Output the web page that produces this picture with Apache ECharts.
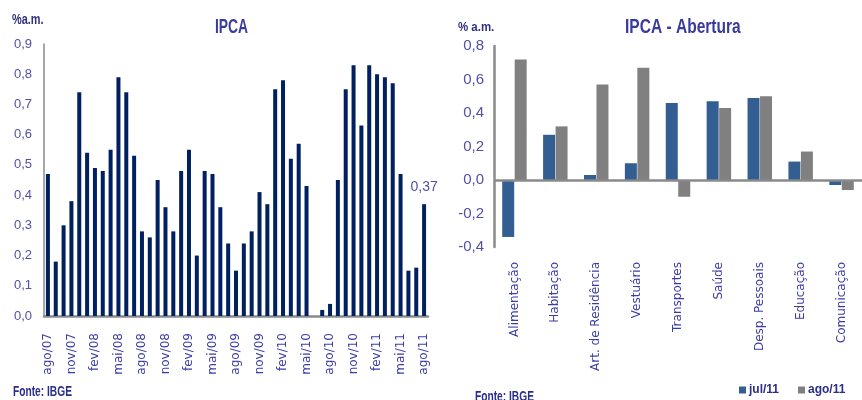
<!DOCTYPE html>
<html><head><meta charset="utf-8">
<script src="https://cdn.jsdelivr.net/npm/echarts@6/dist/echarts.min.js"></script>
<style>html,body{margin:0;padding:0;background:#fff}#c{width:862px;height:400px}</style>
</head><body><div id="c"></div>
<script>
var months = ["ago/07","set/07","out/07","nov/07","dez/07","jan/08","fev/08","mar/08","abr/08","mai/08","jun/08","jul/08","ago/08","set/08","out/08","nov/08","dez/08","jan/09","fev/09","mar/09","abr/09","mai/09","jun/09","jul/09","ago/09","set/09","out/09","nov/09","dez/09","jan/10","fev/10","mar/10","abr/10","mai/10","jun/10","jul/10","ago/10","set/10","out/10","nov/10","dez/10","jan/11","fev/11","mar/11","abr/11","mai/11","jun/11","jul/11","ago/11"];
var ipca = [0.47,0.18,0.30,0.38,0.74,0.54,0.49,0.48,0.55,0.79,0.74,0.53,0.28,0.26,0.45,0.36,0.28,0.48,0.55,0.20,0.48,0.47,0.36,0.24,0.15,0.24,0.28,0.41,0.37,0.75,0.78,0.52,0.57,0.43,0.00,0.02,0.04,0.45,0.75,0.83,0.63,0.83,0.80,0.79,0.77,0.47,0.15,0.16,0.37];
var groups = ["Alimentação","Habitação","Art. de Residência","Vestuário","Transportes","Saúde","Desp. Pessoais","Educação","Comunicação"];
var jul11 = [-0.34,0.27,0.03,0.10,0.46,0.47,0.49,0.11,-0.03];
var ago11 = [0.72,0.32,0.57,0.67,-0.10,0.43,0.50,0.17,-0.06];
var leftTicks = {min:0, max:0.9, step:0.1};
var rightTicks = {min:-0.4, max:0.8, step:0.2};

var SANS = '"Liberation Sans",Arial,sans-serif';
var WIDE = '"DejaVu Sans",sans-serif';
var fmt = function(v){ return v.toFixed(1).replace('.', ','); };

var ipcaData = ipca.map(function(v,i){
  if (i === ipca.length-1) return {value:v, label:{show:true, position:'top', distance:10, formatter:function(p){return p.value.toFixed(2).replace('.',',');}, color:'#5050a8', fontFamily:SANS, fontSize:14}};
  return v;
});

function txt(s, x, y, size, sx, color){
  return {type:'text', x:x, y:y, scaleX:sx, originX:0, originY:0, silent:true,
    style:{text:s, fontFamily:SANS, fontWeight:'bold', fontSize:size, fill:color, align:'left', verticalAlign:'top'}};
}

var chart = echarts.init(document.getElementById('c'), null, {renderer:'canvas'});
chart.setOption({
  animation:false,
  backgroundColor:'#fff',
  graphic:[
    txt('IPCA', 215, 17, 21, 0.66, '#3a3a9c'),
    txt('IPCA - Abertura', 625, 17, 21, 0.74, '#3a3a9c'),
    txt('%a.m.', 12, 13, 14, 0.78, '#2e3180'),
    txt('% a.m.', 458, 21, 13, 0.88, '#2e3180'),
    txt('Fonte: IBGE', 13, 384, 15, 0.68, '#2b2e8a'),
    txt('Fonte: IBGE', 475, 389, 15, 0.68, '#2b2e8a')
  ],
  legend:{left:739, top:384, padding:0, itemWidth:7, itemHeight:7, itemGap:19, icon:'rect', data:['jul/11','ago/11'],
    textStyle:{fontFamily:SANS, fontWeight:'bold', fontSize:12, color:'#2b2e8a', padding:[0,0,0,-2]}},
  grid:[
    {left:44, top:44, width:384, height:272, containLabel:false},
    {left:494, top:46, width:378, height:201, containLabel:false}
  ],
  xAxis:[
    {type:'category', gridIndex:0, data:months, boundaryGap:true,
     axisLine:{lineStyle:{color:'#8a8a8a', width:2.5}}, axisTick:{show:false},
     axisLabel:{interval:2, rotate:90, margin:17, fontFamily:WIDE, fontSize:12, color:'#3c3ca6'}},
    {type:'category', gridIndex:1, data:groups, position:'bottom',
     axisLine:{show:false, onZero:false}, axisTick:{show:false},
     axisLabel:{interval:0, rotate:90, margin:15, fontFamily:WIDE, fontSize:12, color:'#3c3ca6'}}
  ],
  yAxis:[
    {type:'value', gridIndex:0, min:leftTicks.min, max:leftTicks.max, interval:leftTicks.step,
     axisLine:{show:true, lineStyle:{color:'#8a8a8a', width:1.5}}, axisTick:{show:false}, splitLine:{show:false},
     axisLabel:{formatter:fmt, margin:12, fontFamily:SANS, fontSize:13, color:'#5050a8'}},
    {type:'value', gridIndex:1, min:rightTicks.min, max:rightTicks.max, interval:rightTicks.step,
     axisLine:{show:true, lineStyle:{color:'#8a8a8a', width:2.5}}, axisTick:{show:false}, splitLine:{show:false},
     axisLabel:{formatter:fmt, margin:10, fontFamily:SANS, fontSize:15, color:'#5050a8'}}
  ],
  series:[
    {type:'bar', name:'IPCA', xAxisIndex:0, yAxisIndex:0, data:ipcaData, barWidth:4, itemStyle:{color:'#002060'}},
    {type:'bar', name:'jul/11', xAxisIndex:1, yAxisIndex:1, data:jul11, barWidth:12, barGap:'4%', itemStyle:{color:'#335e92'},
     markLine:{silent:true, symbol:'none', label:{show:false}, lineStyle:{color:'#8a8a8a', width:2.5, type:'solid'}, data:[{yAxis:0}]}},
    {type:'bar', name:'ago/11', xAxisIndex:1, yAxisIndex:1, data:ago11, barWidth:12, barGap:'4%', itemStyle:{color:'#808080'}}
  ]
});
</script></body></html>
